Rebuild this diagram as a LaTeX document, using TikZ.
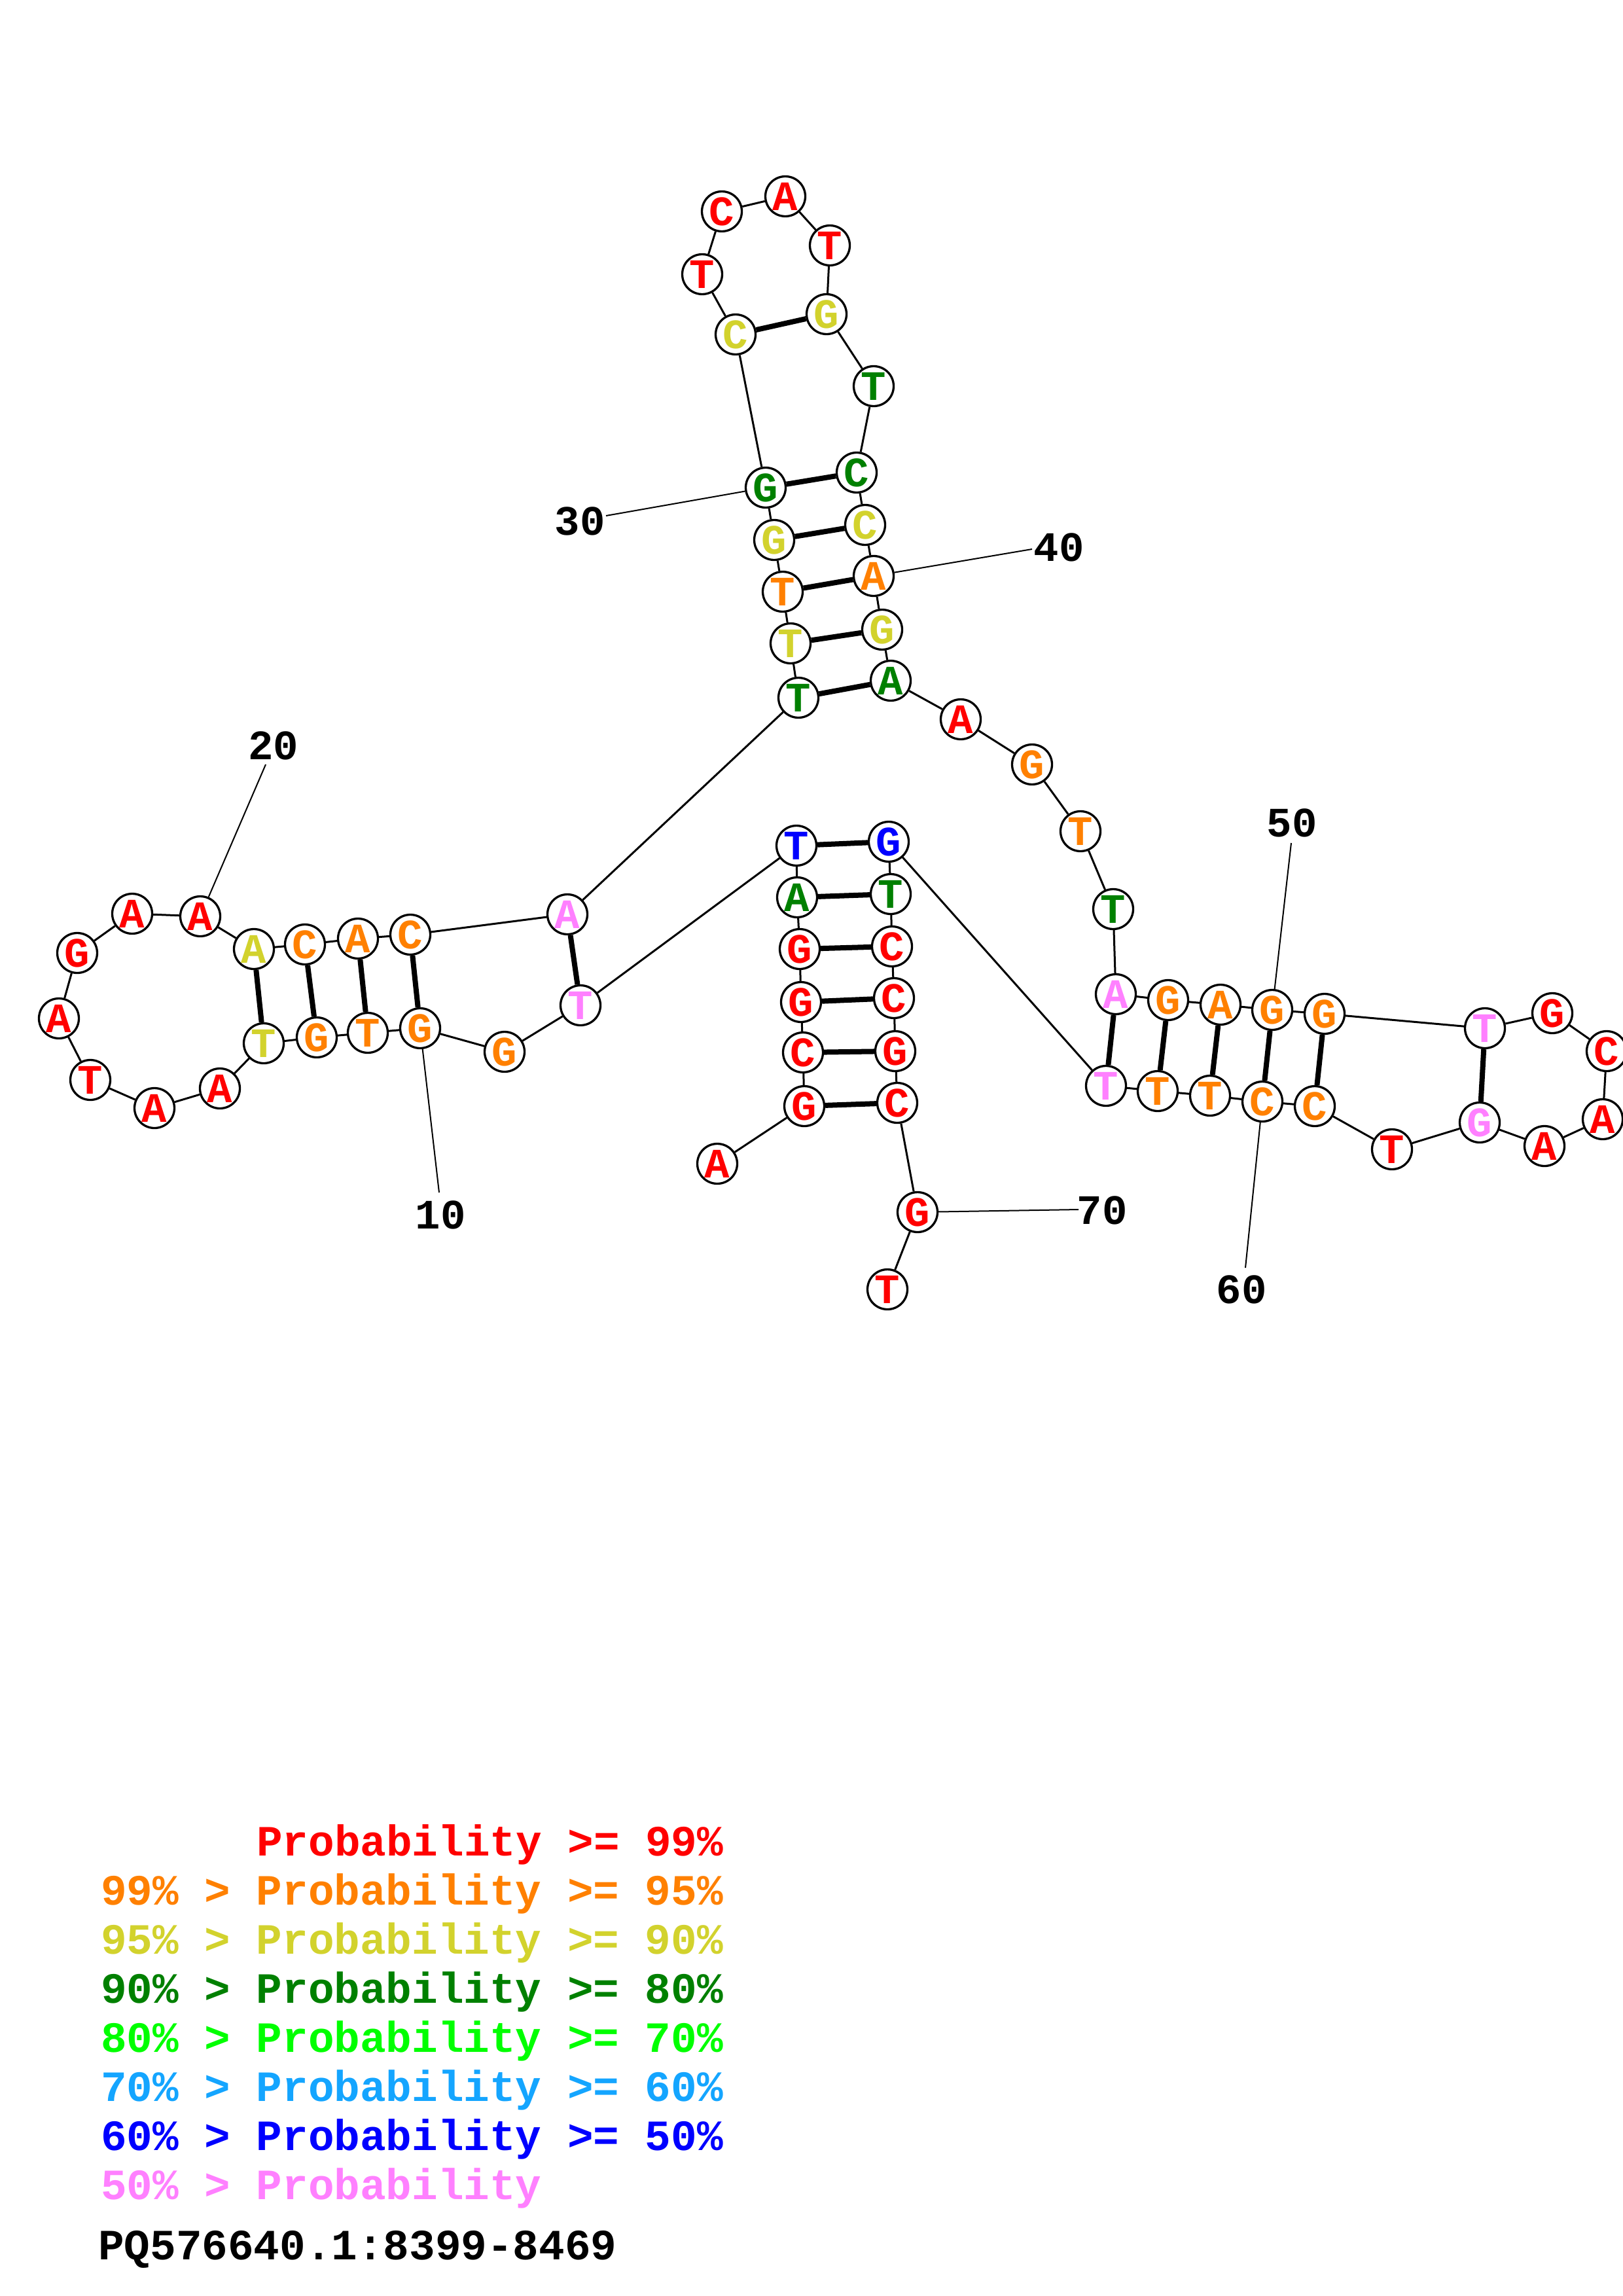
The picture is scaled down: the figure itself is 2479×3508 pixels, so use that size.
\documentclass[tikz,border=0pt]{standalone}
\usepackage{fontspec}
\newfontfamily\monofam{Liberation Mono}
\definecolor{cR}{RGB}{255,0,0}
\definecolor{cO}{RGB}{255,128,0}
\definecolor{cY}{RGB}{210,210,45}
\definecolor{cDG}{RGB}{0,128,0}
\definecolor{cLG}{RGB}{0,255,0}
\definecolor{cLB}{RGB}{20,165,255}
\definecolor{cB}{RGB}{0,0,255}
\definecolor{cP}{RGB}{255,128,255}
\tikzset{
  nt/.style={circle, draw=black, line width=3.3pt, fill=white, minimum size=61pt, inner sep=0pt, text=#1, font=\monofam\bfseries\fontsize{64}{70}\selectfont},
  bb/.style={line width=3pt},
  pr/.style={line width=8pt},
  numline/.style={line width=2pt},
  numlab/.style={font=\monofam\bfseries\fontsize{64}{70}\selectfont, inner sep=0pt},
  leg/.style={font=\monofam\bfseries\fontsize{66}{75}\selectfont, anchor=base west, inner sep=0pt}
}
\begin{document}
\begin{tikzpicture}[x=1pt,y=-1pt]
\useasboundingbox (0,0) rectangle (2479,3508);
% nucleotides
\node[nt=cR]  (n1)  at (1096,1778) {A};
\node[nt=cR]  (n2)  at (1229,1690) {G};
\node[nt=cR]  (n3)  at (1227,1608) {C};
\node[nt=cR]  (n4)  at (1224,1531) {G};
\node[nt=cR]  (n5)  at (1222,1450) {G};
\node[nt=cDG] (n6)  at (1218,1371) {A};
\node[nt=cB]  (n7)  at (1217,1292) {T};
\node[nt=cP]  (n8)  at (887,1536) {T};
\node[nt=cO]  (n9)  at (771,1607) {G};
\node[nt=cO]  (n10) at (642,1571) {G};
\node[nt=cO]  (n11) at (562,1578) {T};
\node[nt=cO]  (n12) at (484,1585) {G};
\node[nt=cY]  (n13) at (403,1594) {T};
\node[nt=cR]  (n14) at (336,1663) {A};
\node[nt=cR]  (n15) at (236,1693) {A};
\node[nt=cR]  (n16) at (138,1650) {T};
\node[nt=cR]  (n17) at (90,1556) {A};
\node[nt=cR]  (n18) at (118,1456) {G};
\node[nt=cR]  (n19) at (202,1396) {A};
\node[nt=cR]  (n20) at (306,1400) {A};
\node[nt=cY]  (n21) at (388,1450) {A};
\node[nt=cO]  (n22) at (466,1443) {C};
\node[nt=cO]  (n23) at (547,1434) {A};
\node[nt=cO]  (n24) at (627,1428) {C};
\node[nt=cP]  (n25) at (867,1397) {A};
\node[nt=cDG] (n26) at (1220,1066) {T};
\node[nt=cY]  (n27) at (1208,983) {T};
\node[nt=cO]  (n28) at (1196,904) {T};
\node[nt=cY]  (n29) at (1183,825) {G};
\node[nt=cDG] (n30) at (1170,745) {G};
\node[nt=cY]  (n31) at (1124,511) {C};
\node[nt=cR]  (n32) at (1073,419) {T};
\node[nt=cR]  (n33) at (1103,323) {C};
\node[nt=cR]  (n34) at (1200,300) {A};
\node[nt=cR]  (n35) at (1268,375) {T};
\node[nt=cY]  (n36) at (1263,480) {G};
\node[nt=cDG] (n37) at (1335,590) {T};
\node[nt=cDG] (n38) at (1309,722) {C};
\node[nt=cY]  (n39) at (1322,802) {C};
\node[nt=cO]  (n40) at (1335,880) {A};
\node[nt=cY]  (n41) at (1348,962) {G};
\node[nt=cDG] (n42) at (1361,1040) {A};
\node[nt=cR]  (n43) at (1468,1099) {A};
\node[nt=cO]  (n44) at (1577,1168) {G};
\node[nt=cO]  (n45) at (1651,1270) {T};
\node[nt=cDG] (n46) at (1701,1389) {T};
\node[nt=cP]  (n47) at (1705,1519) {A};
\node[nt=cO]  (n48) at (1785,1528) {G};
\node[nt=cO]  (n49) at (1865,1535) {A};
\node[nt=cO]  (n50) at (1944,1543) {G};
\node[nt=cO]  (n51) at (2024,1549) {G};
\node[nt=cP]  (n52) at (2269,1571) {T};
\node[nt=cR]  (n53) at (2372,1548) {G};
\node[nt=cR]  (n54) at (2455,1606) {C};
\node[nt=cR]  (n55) at (2449,1710) {A};
\node[nt=cR]  (n56) at (2360,1751) {A};
\node[nt=cP]  (n57) at (2261,1715) {G};
\node[nt=cR]  (n58) at (2127,1756) {T};
\node[nt=cO]  (n59) at (2009,1690) {C};
\node[nt=cO]  (n60) at (1929,1683) {C};
\node[nt=cO]  (n61) at (1849,1674) {T};
\node[nt=cO]  (n62) at (1769,1667) {T};
\node[nt=cP]  (n63) at (1690,1659) {T};
\node[nt=cB]  (n64) at (1358,1286) {G};
\node[nt=cDG] (n65) at (1361,1366) {T};
\node[nt=cR]  (n66) at (1363,1446) {C};
\node[nt=cR]  (n67) at (1366,1525) {C};
\node[nt=cR]  (n68) at (1368,1606) {G};
\node[nt=cR]  (n69) at (1371,1685) {C};
\node[nt=cR]  (n70) at (1402,1852) {G};
\node[nt=cR]  (n71) at (1356,1970) {T};
% backbone
\foreach \i [evaluate=\i as \j using int(\i+1)] in {1,...,70}
  \draw[bb] (n\i) -- (n\j);
% base pairs
\foreach \a/\b in {2/69,3/68,4/67,5/66,6/65,7/64,8/25,10/24,11/23,12/22,13/21,26/42,27/41,28/40,29/39,30/38,31/36,47/63,48/62,49/61,50/60,51/59,52/57}
  \draw[pr] (n\a) -- (n\b);
% numbering
\coordinate (e10) at (671,1822);
\coordinate (e20) at (406,1168);
\coordinate (e30) at (926,788);
\coordinate (e40) at (1577,839);
\coordinate (e50) at (1973,1288);
\coordinate (e60) at (1903,1937);
\coordinate (e70) at (1648,1848);
\foreach \k in {10,20,30,40,50,60,70}
  \draw[numline] (n\k) -- (e\k);
\node[numlab] (l10) at (673,1856) {10};
\node[numlab] (l20) at (418,1139) {20};
\node[numlab] (l30) at (886,796) {30};
\node[numlab] (l40) at (1618,836) {40};
\node[numlab] (l50) at (1974,1257) {50};
\node[numlab] (l60) at (1897,1970) {60};
\node[numlab] (l70) at (1684,1849) {70};
% legend
\node[leg, text=cR]  (g1) at (392,2835) {Probability >= 99\%};
\node[leg, text=cO]  (g2) at (154,2910) {99\% > Probability >= 95\%};
\node[leg, text=cY]  (g3) at (154,2985) {95\% > Probability >= 90\%};
\node[leg, text=cDG] (g4) at (154,3060) {90\% > Probability >= 80\%};
\node[leg, text=cLG] (g5) at (154,3135) {80\% > Probability >= 70\%};
\node[leg, text=cLB] (g6) at (154,3210) {70\% > Probability >= 60\%};
\node[leg, text=cB]  (g7) at (154,3285) {60\% > Probability >= 50\%};
\node[leg, text=cP]  (g8) at (154,3360) {50\% > Probability};
\node[leg, text=black] (g9) at (150,3452) {PQ576640.1:8399-8469};
\end{tikzpicture}
\end{document}
